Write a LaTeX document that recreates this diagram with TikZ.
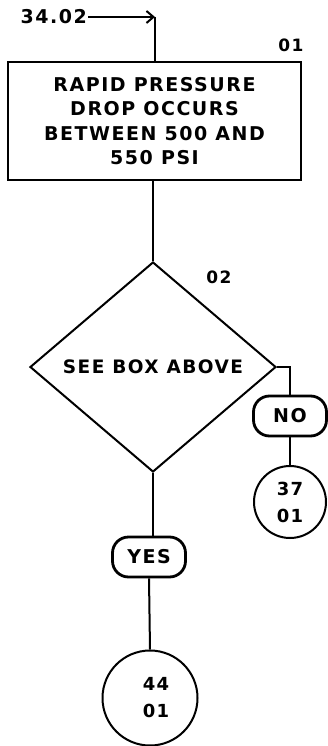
\documentclass[tikz,border=0pt]{standalone}
\usepackage{fontspec}
\setmainfont{DejaVu Sans}[LetterSpace=8]
\usetikzlibrary{positioning,arrows.meta,shapes.geometric}

\begin{document}
\begin{tikzpicture}[
  x=1pt,y=-1pt,
  procbox/.style={draw,line width=2pt,minimum width=293pt,minimum height=118pt,
                  align=center,inner sep=2pt,font=\fontsize{19}{24.5}\selectfont\bfseries},
  decision/.style={draw,diamond,line width=2pt,minimum width=246pt,minimum height=210pt,
                   inner sep=0pt,font=\fontsize{18.5}{20}\selectfont\bfseries},
  answer/.style={draw,rounded corners=16pt,line width=2.8pt,minimum width=73pt,minimum height=40pt,
                 inner sep=2pt,font=\fontsize{19}{20}\selectfont\bfseries},
  offpage/.style={draw,circle,line width=2pt,align=center,inner sep=0pt,
                  font=\fontsize{18}{27}\selectfont\bfseries},
  stepno/.style={font=\fontsize{17}{18}\selectfont\bfseries,inner sep=1pt},
  flow/.style={line width=2pt},
  entry/.style={-{Straight Barb[length=7pt,width=12pt]},line width=2pt}
]
\useasboundingbox (0,0) rectangle (328,746);

% Entry and first step
\node[stepno,font=\fontsize{19}{20}\selectfont\bfseries,anchor=east] (entrylbl) at (88,17) {34.02};
\coordinate (entrycorner) at (155,17);
\node[procbox] (pressuredrop) at (154.5,121)
  {RAPID PRESSURE\\DROP OCCURS\\BETWEEN 500 AND\\550 PSI};
\node[stepno] (step01) at (291,45) {01};

\draw[entry] (entrylbl.east) -- (entrycorner);
\draw[flow] (entrycorner) -- (entrycorner |- pressuredrop.north);

% Decision
\node[decision] (seebox) at (153,367) {SEE BOX ABOVE};
\node[stepno] (step02) at (219,277) {02};
\draw[flow] (pressuredrop.south -| seebox.north) -- (seebox.north);

% No branch
\node[answer] (nobr) at (290,416) {NO};
\node[offpage,minimum size=72pt] (goto37) at (290,502) {37\\01};
\draw[flow] (seebox.east) -| (nobr.north);
\draw[flow] (nobr.south) -- (goto37.north);

% Yes branch
\node[answer] (yesbr) at (149,557) {YES};
\node[offpage,minimum size=95pt] (goto44) at (150,698) {\hspace*{12pt}44\\\hspace*{12pt}01};
\draw[flow] (seebox.south) -- (seebox.south |- yesbr.north);
\draw[flow] (yesbr.south) -- (goto44.north);
\end{tikzpicture}
\end{document}
